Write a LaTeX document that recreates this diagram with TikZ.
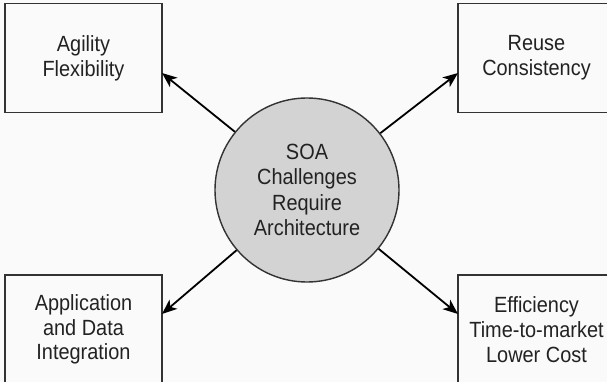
\documentclass[tikz,border=0pt]{standalone}
\usepackage{fontspec}
\setmainfont{Liberation Sans}[FakeStretch=0.905]
\usetikzlibrary{arrows.meta}
\definecolor{bg}{HTML}{FAFAFA}
\definecolor{ink}{HTML}{222222}
\definecolor{edge}{HTML}{333333}
\definecolor{disk}{HTML}{D3D3D3}
\tikzset{
  box/.style={draw=edge, line width=1.4pt, minimum width=157pt, minimum height=109pt,
    inner sep=0pt, align=center, text=ink, font=\fontsize{22}{24.8}\selectfont},
  hub/.style={circle, draw=edge, fill=disk, line width=1.4pt, minimum size=184pt,
    inner sep=0pt, align=center, text=ink, font=\fontsize{22}{25.2}\selectfont},
  arr/.style={draw=black, line width=1.8pt, -{Stealth[length=15pt,width=12pt,inset=4pt]}}
}
\begin{document}
\begin{tikzpicture}[x=1pt,y=-1pt]
\useasboundingbox (0,0) rectangle (607,382);
\fill[bg] (0,0) rectangle (607,382);
\clip (0,0) rectangle (607,382);
\node[box] (tl) at (83.5,58) {Agility\\Flexibility};
\node[box] (tr) at (536.5,58) {Reuse\\Consistency};
\node[box] (bl) at (83.5,329.5) {Application\\and Data\\Integration};
\node[box] (br) at (536.5,329.5) {Efficiency\\Time-to-market\\Lower Cost};
\node[hub] (c) at (307,190) {SOA\\Challenges\\Require\\Architecture};
\coordinate (ptl) at (162,73);
\coordinate (ptr) at (458,73);
\coordinate (pbl) at (162,314);
\coordinate (pbr) at (458,314);
\draw[arr] (c) -- (ptl);
\draw[arr] (c) -- (ptr);
\draw[arr] (c) -- (pbl);
\draw[arr] (c) -- (pbr);
\end{tikzpicture}
\end{document}
